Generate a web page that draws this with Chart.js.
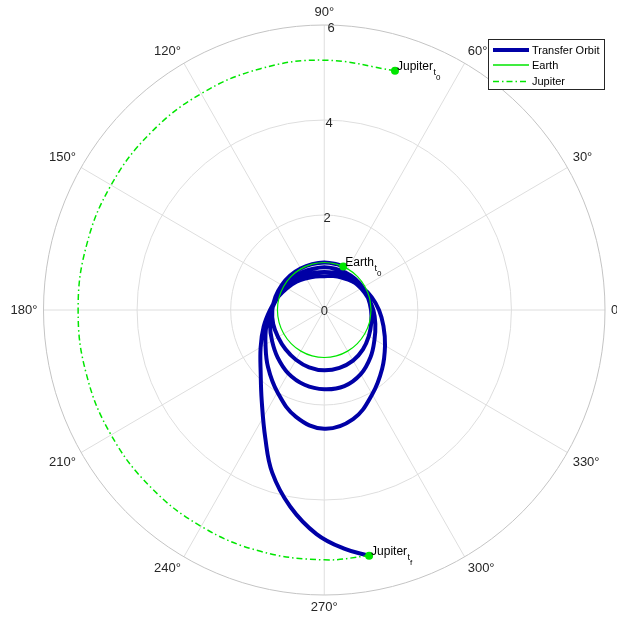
<!DOCTYPE html>
<html><head><meta charset="utf-8">
<script src="https://cdn.jsdelivr.net/npm/chart.js@4.4.0/dist/chart.umd.min.js"></script>
<style>html,body{margin:0;padding:0;background:#fff;overflow:hidden}</style>
</head><body>
<canvas id="c" width="617" height="618"></canvas>
<script>
// ---------- data (polar: theta in degrees, r in AU) ----------
const thetaTicks = [0, 30, 60, 90, 120, 150, 180, 210, 240, 270, 300, 330];
const thetaTickLabels = ['0', '30°', '60°', '90°', '120°', '150°', '180°', '210°', '240°', '270°', '300°', '330°'];
const rTicks = [0, 2, 4, 6];
const rTickLabels = ['0', '2', '4', '6'];
const rMax = 6;

const orbitTheta = [
  66, 75, 90, 105, 120, 135, 150, 165, 180, 195, 210, 225, 240, 255, 270, 285, 300, 315, 330, 345, 0, 15, 30, 45, 60, 75, 90,
  105, 120, 135, 150, 165, 180, 195, 210, 225, 240, 255, 270, 285, 300, 315, 330, 345, 0, 15, 30, 45, 60, 75, 90,
  105, 120, 135, 150, 165, 180, 195, 210, 225, 240, 255, 270, 285, 300, 315, 330, 345, 0, 15, 30, 45, 60, 75, 90,
  105, 120, 135, 150, 165, 180, 195, 210, 225, 235, 245, 252, 260, 268, 275, 280.5
];
const orbitR = [
  1.00, 1.00, 1.00, 1.00, 1.01, 1.03, 1.05, 1.08, 1.11, 1.13, 1.14, 1.17, 1.21, 1.25, 1.27, 1.26, 1.23, 1.17, 1.10, 1.04, 1.00, 0.97, 0.95, 0.93, 0.91, 0.90, 0.90,
  0.90, 0.92, 0.95, 0.99, 1.05, 1.12, 1.20, 1.29, 1.41, 1.54, 1.63, 1.67, 1.66, 1.56, 1.40, 1.24, 1.13, 1.05, 0.97, 0.91, 0.86, 0.83, 0.81, 0.80,
  0.81, 0.84, 0.89, 0.95, 1.03, 1.13, 1.28, 1.45, 1.70, 2.00, 2.33, 2.50, 2.38, 2.05, 1.75, 1.50, 1.31, 1.17, 1.05, 0.94, 0.85, 0.78, 0.74, 0.71,
  0.73, 0.77, 0.84, 0.92, 1.03, 1.16, 1.34, 1.57, 1.92, 2.33, 2.98, 3.60, 4.20, 4.72, 5.05, 5.26
];
const earthTheta = [0, 15, 30, 45, 60, 75, 90, 105, 120, 135, 150, 165, 180, 195, 210, 225, 240, 255, 270, 285, 300, 315, 330, 345, 360];
const earthR = [1, 1, 1, 1, 1, 1, 1, 1, 1, 1, 1, 1, 1, 1, 1, 1, 1, 1, 1, 1, 1, 1, 1, 1, 1];
const jupiterTheta = [73.3, 90, 105, 120, 135, 150, 165, 180, 195, 210, 225, 240, 255, 270, 280.5];
const jupiterR = [5.26, 5.26, 5.26, 5.26, 5.26, 5.26, 5.26, 5.26, 5.26, 5.26, 5.26, 5.26, 5.26, 5.26, 5.26];
const markerTheta = [66, 73.3, 280.5];
const markerR = [1.0, 5.26, 5.26];
const markerNames = ['Earth', 'Jupiter', 'Jupiter'];
const markerSubs = [['t', '0'], ['t', '0'], ['t', 'f']];
const seriesNames = ['Transfer Orbit', 'Earth', 'Jupiter'];

// ---------- helpers ----------
const FONT = '"Liberation Sans", Arial, Helvetica, sans-serif';
const BLUE = '#0000a6', GREEN = '#00e600';
const seriesColors = [BLUE, GREEN, GREEN];
const seriesWidths = [4, 1.4, 1.5];
const seriesDash = [[], [], [6, 3, 1.5, 3]];
function toXY(th, r) {
  return th.map((t, i) => ({ x: r[i] * Math.cos(t * Math.PI / 180), y: r[i] * Math.sin(t * Math.PI / 180) }));
}

const polarPlugin = {
  id: 'polarPlugin',
  beforeDatasetsDraw(chart) {
    const { ctx, scales: { x, y } } = chart;
    const cx = x.getPixelForValue(0), cy = y.getPixelForValue(0);
    const sx = x.getPixelForValue(1) - cx, sy = cy - y.getPixelForValue(1);
    ctx.save();
    ctx.strokeStyle = '#dedede';
    ctx.lineWidth = 1;
    thetaTicks.forEach(t => {
      const a = t * Math.PI / 180;
      ctx.beginPath();
      ctx.moveTo(cx, cy);
      ctx.lineTo(cx + rMax * sx * Math.cos(a), cy - rMax * sy * Math.sin(a));
      ctx.stroke();
    });
    rTicks.filter(r => r > 0 && r < rMax).forEach(r => {
      ctx.beginPath();
      ctx.ellipse(cx, cy, r * sx, r * sy, 0, 0, Math.PI * 2);
      ctx.stroke();
    });
    ctx.strokeStyle = '#c4c4c4';
    ctx.beginPath();
    ctx.ellipse(cx, cy, rMax * sx, rMax * sy, 0, 0, Math.PI * 2);
    ctx.stroke();
    ctx.restore();
  },
  afterDatasetsDraw(chart) {
    const { ctx, scales: { x, y } } = chart;
    const cx = x.getPixelForValue(0), cy = y.getPixelForValue(0);
    const sx = x.getPixelForValue(1) - cx, sy = cy - y.getPixelForValue(1);
    ctx.save();
    // theta labels
    ctx.fillStyle = '#262626';
    ctx.font = '13px ' + FONT;
    const rl = 6.13;
    thetaTicks.forEach((t, i) => {
      const a = t * Math.PI / 180, c = Math.cos(a), s = Math.sin(a);
      const px = cx + rl * sx * c, py = cy - rl * sy * s;
      ctx.textAlign = c > 0.1 ? 'left' : (c < -0.1 ? 'right' : 'center');
      ctx.textBaseline = s > 0.1 ? 'bottom' : (s < -0.1 ? 'top' : 'middle');
      ctx.fillText(thetaTickLabels[i], px, py);
    });
    // r labels along ~89 deg
    ctx.textAlign = 'center';
    ctx.textBaseline = 'middle';
    const ra = 88.8 * Math.PI / 180;
    rTicks.forEach((r, i) => {
      const px = r === 0 ? cx : cx + r * sx * Math.cos(ra) + 1;
      const py = r === 0 ? cy + 1 : cy - r * sy * Math.sin(ra) + 3;
      ctx.fillText(rTickLabels[i], px, py);
    });
    // marker annotations with subscripts
    ctx.fillStyle = '#000';
    ctx.textAlign = 'left';
    ctx.textBaseline = 'alphabetic';
    markerTheta.forEach((t, i) => {
      const a = t * Math.PI / 180;
      const px = cx + markerR[i] * sx * Math.cos(a), py = cy - markerR[i] * sy * Math.sin(a);
      ctx.font = '12px ' + FONT;
      const x0 = px + 2, base = py - 1;
      ctx.fillText(markerNames[i], x0, base);
      const w = ctx.measureText(markerNames[i]).width;
      ctx.font = '9px ' + FONT;
      ctx.fillText(markerSubs[i][0], x0 + w + 0.5, base + 5);
      const w2 = ctx.measureText(markerSubs[i][0]).width;
      ctx.font = '8px ' + FONT;
      ctx.fillText(markerSubs[i][1], x0 + w + w2 + 0.5, base + 10);
    });
    // legend
    const lx = 488.5, ly = 39.5, lw = 116, lh = 50;
    ctx.fillStyle = '#fff';
    ctx.fillRect(lx, ly, lw, lh);
    ctx.strokeStyle = '#262626';
    ctx.lineWidth = 1;
    ctx.strokeRect(lx, ly, lw, lh);
    const rows = [50, 65, 81.5];
    [0, 1, 2].forEach(i => {
      ctx.save();
      ctx.strokeStyle = seriesColors[i];
      ctx.lineWidth = seriesWidths[i];
      ctx.setLineDash(seriesDash[i]);
      ctx.beginPath();
      ctx.moveTo(493, rows[i]);
      ctx.lineTo(529, rows[i]);
      ctx.stroke();
      ctx.restore();
      ctx.fillStyle = '#000';
      ctx.font = '11px ' + FONT;
      ctx.textBaseline = 'middle';
      ctx.textAlign = 'left';
      ctx.fillText(seriesNames[i], 532, rows[i] + 0.5);
    });
    ctx.restore();
  }
};

new Chart(document.getElementById('c'), {
  type: 'scatter',
  data: {
    datasets: [
      { label: seriesNames[0], data: toXY(orbitTheta, orbitR), showLine: true, borderColor: seriesColors[0], borderWidth: seriesWidths[0],
        pointRadius: 0, tension: 0.4, order: 3, borderCapStyle: 'round', borderJoinStyle: 'round' },
      { label: seriesNames[1], data: toXY(earthTheta, earthR), showLine: true, borderColor: seriesColors[1], borderWidth: 1.2,
        pointRadius: 0, tension: 0.4, order: 2 },
      { label: seriesNames[2], data: toXY(jupiterTheta, jupiterR), showLine: true, borderColor: seriesColors[2], borderWidth: seriesWidths[2],
        borderDash: seriesDash[2], pointRadius: 0, tension: 0.4, order: 1 },
      { label: 'markers', data: toXY(markerTheta, markerR), showLine: false, pointRadius: 4,
        backgroundColor: GREEN, borderColor: GREEN, borderWidth: 0, order: 0 }
    ]
  },
  options: {
    responsive: false,
    animation: false,
    layout: { padding: { left: 43.5, right: 12, top: 25, bottom: 23 } },
    scales: {
      x: { type: 'linear', min: -rMax, max: rMax, display: false },
      y: { type: 'linear', min: -rMax, max: rMax, display: false }
    },
    plugins: { legend: { display: false }, tooltip: { enabled: false } }
  },
  plugins: [polarPlugin]
});
</script>
</body></html>
